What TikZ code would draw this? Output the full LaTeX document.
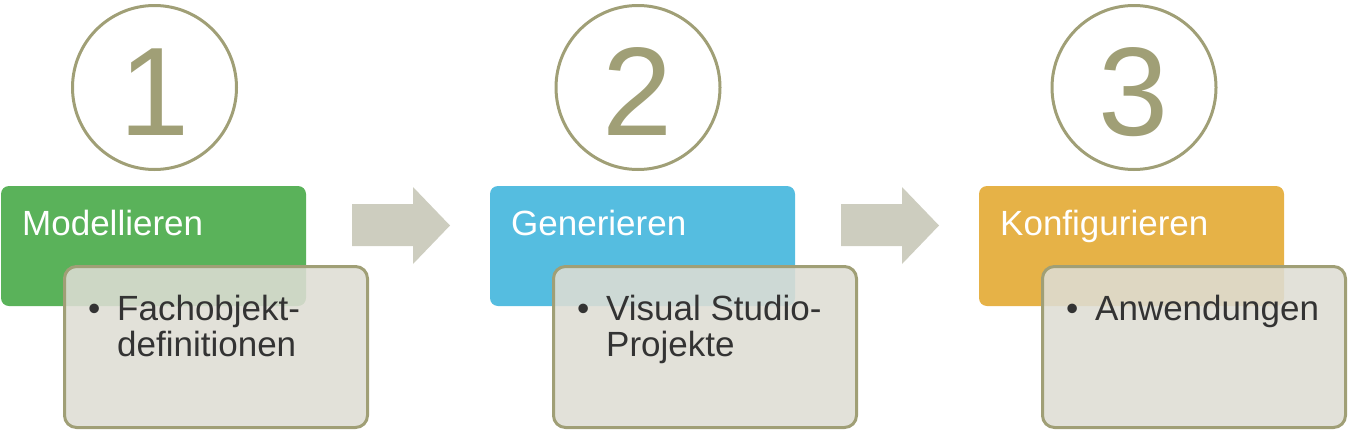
\documentclass[tikz,border=0pt]{standalone}
\usepackage{fontspec}
\setmainfont{Liberation Sans}
\definecolor{olive}{HTML}{A09F76}
\definecolor{stepgreen}{HTML}{5AB25A}
\definecolor{stepblue}{HTML}{55BDE0}
\definecolor{steporange}{HTML}{E6B247}
\definecolor{itemgray}{HTML}{DEDDD4}
\definecolor{arrowgray}{HTML}{CDCDBF}
\definecolor{textgray}{HTML}{333333}
\begin{document}
\begin{tikzpicture}[x=1pt,y=-1pt,
  stepcircle/.style={circle, draw=olive, line width=3pt, minimum size=164pt, inner sep=0pt},
  num/.style={font=\fontsize{126}{126}\selectfont, text=olive, anchor=base, inner sep=0pt},
  headbox/.style={rounded corners=8pt, minimum width=305pt, minimum height=120pt, anchor=north west, inner sep=0pt, outer sep=0pt},
  title/.style={font=\fontsize{35}{40}\selectfont, text=white, anchor=base west, inner sep=0pt},
  itembox/.style={draw=olive, line width=3pt, fill=itemgray, fill opacity=0.88, rounded corners=12pt, minimum width=303pt, minimum height=161pt, anchor=north west, inner sep=0pt},
  item/.style={font=\fontsize{35}{36}\selectfont, text=textgray, anchor=base west, inner sep=0pt},
  flowarrow/.style={fill=arrowgray}
]
\useasboundingbox (0,0) rectangle (1349,434);

% circles with numbers
\node[stepcircle] (c1) at (154.5,87.5) {};
\node[num] (n1) at (154.5,135) {1};
\node[stepcircle] (c2) at (638,87.5) {};
\node[num] (n2) at (638,135) {2};
\node[stepcircle] (c3) at (1134,87.5) {};
\node[num] (n3) at (1134,135) {3};

% coloured heading boxes
\node[headbox, fill=stepgreen] (h1) at (1,186) {};
\node[title] (t1) at (22,235) {Modellieren};
\node[headbox, fill=stepblue] (h2) at (490,186) {};
\node[title] (t2) at (511,235) {Generieren};
\node[headbox, fill=steporange] (h3) at (979,186) {};
\node[title] (t3) at (1000,235) {Konfigurieren};

% item boxes
\node[itembox] (b1) at (63,265) {};
\node[item] (d1) at (88,320) {\textbullet};
\node[item] (i1a) at (117,320) {Fachobjekt-};
\node[item] (i1b) at (117,356) {definitionen};

\node[itembox] (b2) at (552,265) {};
\node[item] (d2) at (577,320) {\textbullet};
\node[item] (i2a) at (606,320) {Visual Studio-};
\node[item] (i2b) at (606,356) {Projekte};

\node[itembox] (b3) at (1041,265) {};
\node[item] (d3) at (1066,320) {\textbullet};
\node[item] (i3a) at (1095,320) {Anwendungen};

% arrows
\fill[flowarrow] (352,204) -- (413,204) -- (413,187) -- (450,225.5) -- (413,264) -- (413,246) -- (352,246) -- cycle;
\fill[flowarrow] (841,204) -- (902,204) -- (902,187) -- (939,225.5) -- (902,264) -- (902,246) -- (841,246) -- cycle;
\end{tikzpicture}
\end{document}
